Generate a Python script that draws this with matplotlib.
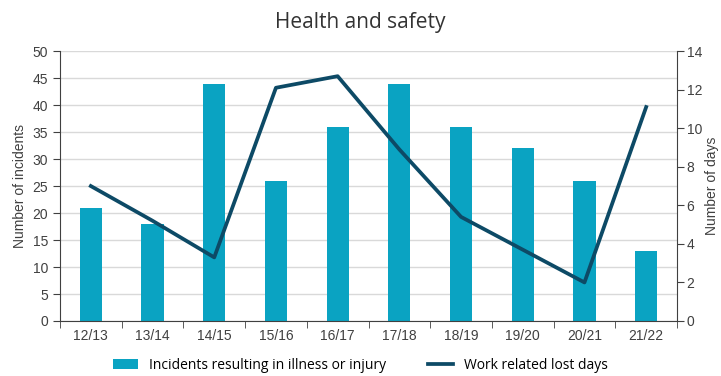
import numpy as np
import matplotlib.pyplot as plt
from matplotlib.ticker import FixedLocator

years = ['12/13', '13/14', '14/15', '15/16', '16/17', '17/18', '18/19', '19/20', '20/21', '21/22']
incidents = [21, 18, 44, 26, 36, 44, 36, 32, 26, 13]
lost_days = [7.0, 5.2, 3.3, 12.1, 12.7, 8.9, 5.4, 3.7, 2.0, 11.1]

bar_color = '#0aa3c2'
line_color = '#0d4a66'
text_color = '#404040'

plt.rcParams['font.family'] = ['Liberation Sans', 'DejaVu Sans']

fig = plt.figure(figsize=(7.21, 3.76), dpi=100)
ax = fig.add_axes([0.0832, 0.1463, 0.8558, 0.7177])
x = np.arange(len(years))

bars = ax.bar(x, incidents, width=0.36, color=bar_color, zorder=2,
              label='Incidents resulting in illness or injury')
ax.set_xlim(-0.5, len(years) - 0.5)
ax.set_ylim(0, 50)
ax.set_yticks(np.arange(0, 51, 5))
ax.grid(axis='y', color='#d9d9d9', linewidth=1, zorder=0)
ax.set_axisbelow(True)
ax.set_xticks(x)
ax.set_xticklabels(years)
ax.xaxis.set_minor_locator(FixedLocator(np.arange(-0.5, len(years), 1)))
ax.tick_params(axis='x', which='major', length=0, pad=6)
ax.tick_params(axis='x', which='minor', length=5, color='#404040')
ax.tick_params(axis='y', length=5, color='#404040')
ax.tick_params(labelsize=10, labelcolor=text_color)
ax.set_ylabel('Number of incidents', fontsize=10, color=text_color, labelpad=4)
for side in ['top', 'right']:
    ax.spines[side].set_visible(False)
for side in ['left', 'bottom']:
    ax.spines[side].set_color('#404040')

ax2 = ax.twinx()
line, = ax2.plot(x, lost_days, color=line_color, linewidth=2.7, zorder=3,
                 label='Work related lost days')
ax2.set_ylim(0, 14)
ax2.set_yticks(np.arange(0, 15, 2))
ax2.tick_params(axis='y', length=5, pad=2, color='#404040', labelsize=10, labelcolor=text_color)
ax2.set_ylabel('Number of days', fontsize=10, color=text_color, labelpad=2)
for side in ['top', 'left', 'bottom']:
    ax2.spines[side].set_visible(False)
ax2.spines['right'].set_color('#404040')

fig.text(0.5, 0.94, 'Health and safety', ha='center', va='center', fontsize=15,
         color='#333333', family=['Open Sans', 'DejaVu Sans'])

fig.legend(handles=[bars, line], loc='center', bbox_to_anchor=(0.5, 0.028),
           ncol=2, frameon=False, handlelength=1.8, columnspacing=3,
           prop={'family': ['Open Sans', 'DejaVu Sans'], 'size': 10})

fig.savefig('out.png', dpi=100)
